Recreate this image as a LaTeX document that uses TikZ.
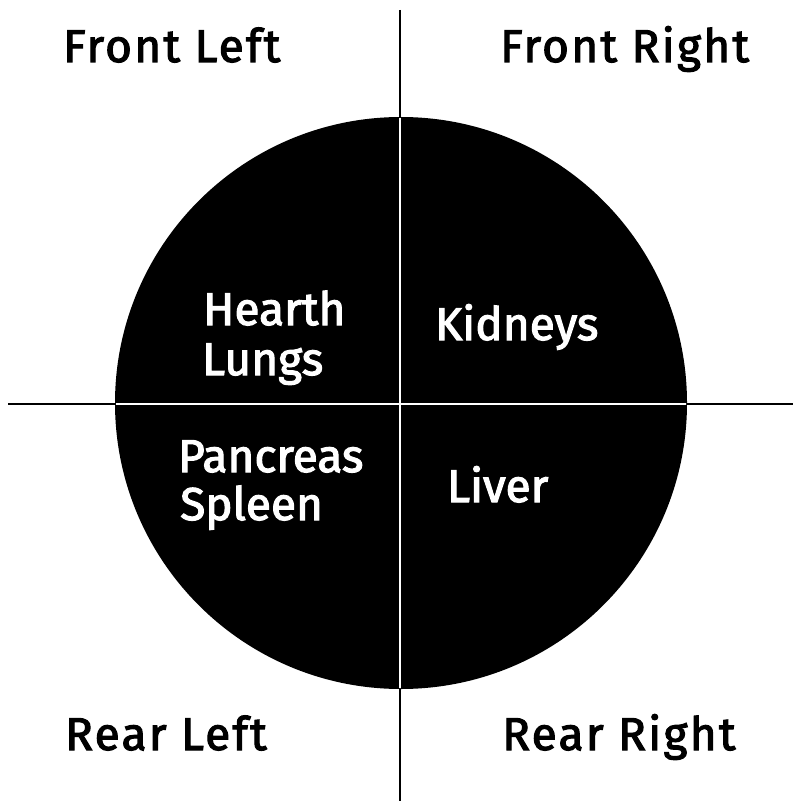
\documentclass[tikz,border=0pt]{standalone}
\usepackage{fontspec}
\setmainfont{Fira Sans}
\newfontfamily\outerfont{Fira Sans}[LetterSpace=5]
\newcommand\thicktext[1]{\special{pdf:literal direct 2 Tr 1.1 w}#1\special{pdf:literal direct 0 Tr}}
\tikzset{
  lbl/.style={font=\fontsize{46}{50}\selectfont\outerfont, inner sep=0pt, anchor=base west},
  inlbl/.style={font=\fontsize{46}{50}\selectfont, inner sep=0pt, anchor=base west, text=white},
  axis/.style={line width=2pt, black},
  inaxis/.style={line width=2pt, white}
}
\begin{document}
\begin{tikzpicture}[x=1pt,y=-1pt]
\useasboundingbox (0,0) rectangle (794,802);
\fill[white] (0,0) rectangle (794,802);
% axes
\draw[axis] (400,10) -- (400,801);
\draw[axis] (8,404) -- (793,404);
% body
\fill[black] (401,403) circle[radius=286];
\begin{scope}
\clip (401,403) circle[radius=285];
\draw[inaxis] (400,100) -- (400,700);
\draw[inaxis] (100,404) -- (700,404);
\end{scope}
% labels
\node[lbl] (fl) at (63,62) {\thicktext{Front Left}};
\node[lbl] (fr) at (500,62) {\thicktext{Front Right}};
\node[lbl] (rl) at (65,750) {\thicktext{Rear Left}};
\node[lbl] (rr) at (502,750) {\thicktext{Rear Right}};
\node[inlbl] (hearth) at (203,325) {\thicktext{Hearth}};
\node[inlbl] (lungs) at (202,375) {\thicktext{Lungs}};
\node[inlbl] (kid) at (435,340) {\thicktext{Kidneys}};
\node[inlbl] (panc) at (178,472) {\thicktext{Pancreas}};
\node[inlbl] (spl) at (180,520) {\thicktext{Spleen}};
\node[inlbl] (liver) at (447,502) {\thicktext{Liver}};
\end{tikzpicture}
\end{document}
